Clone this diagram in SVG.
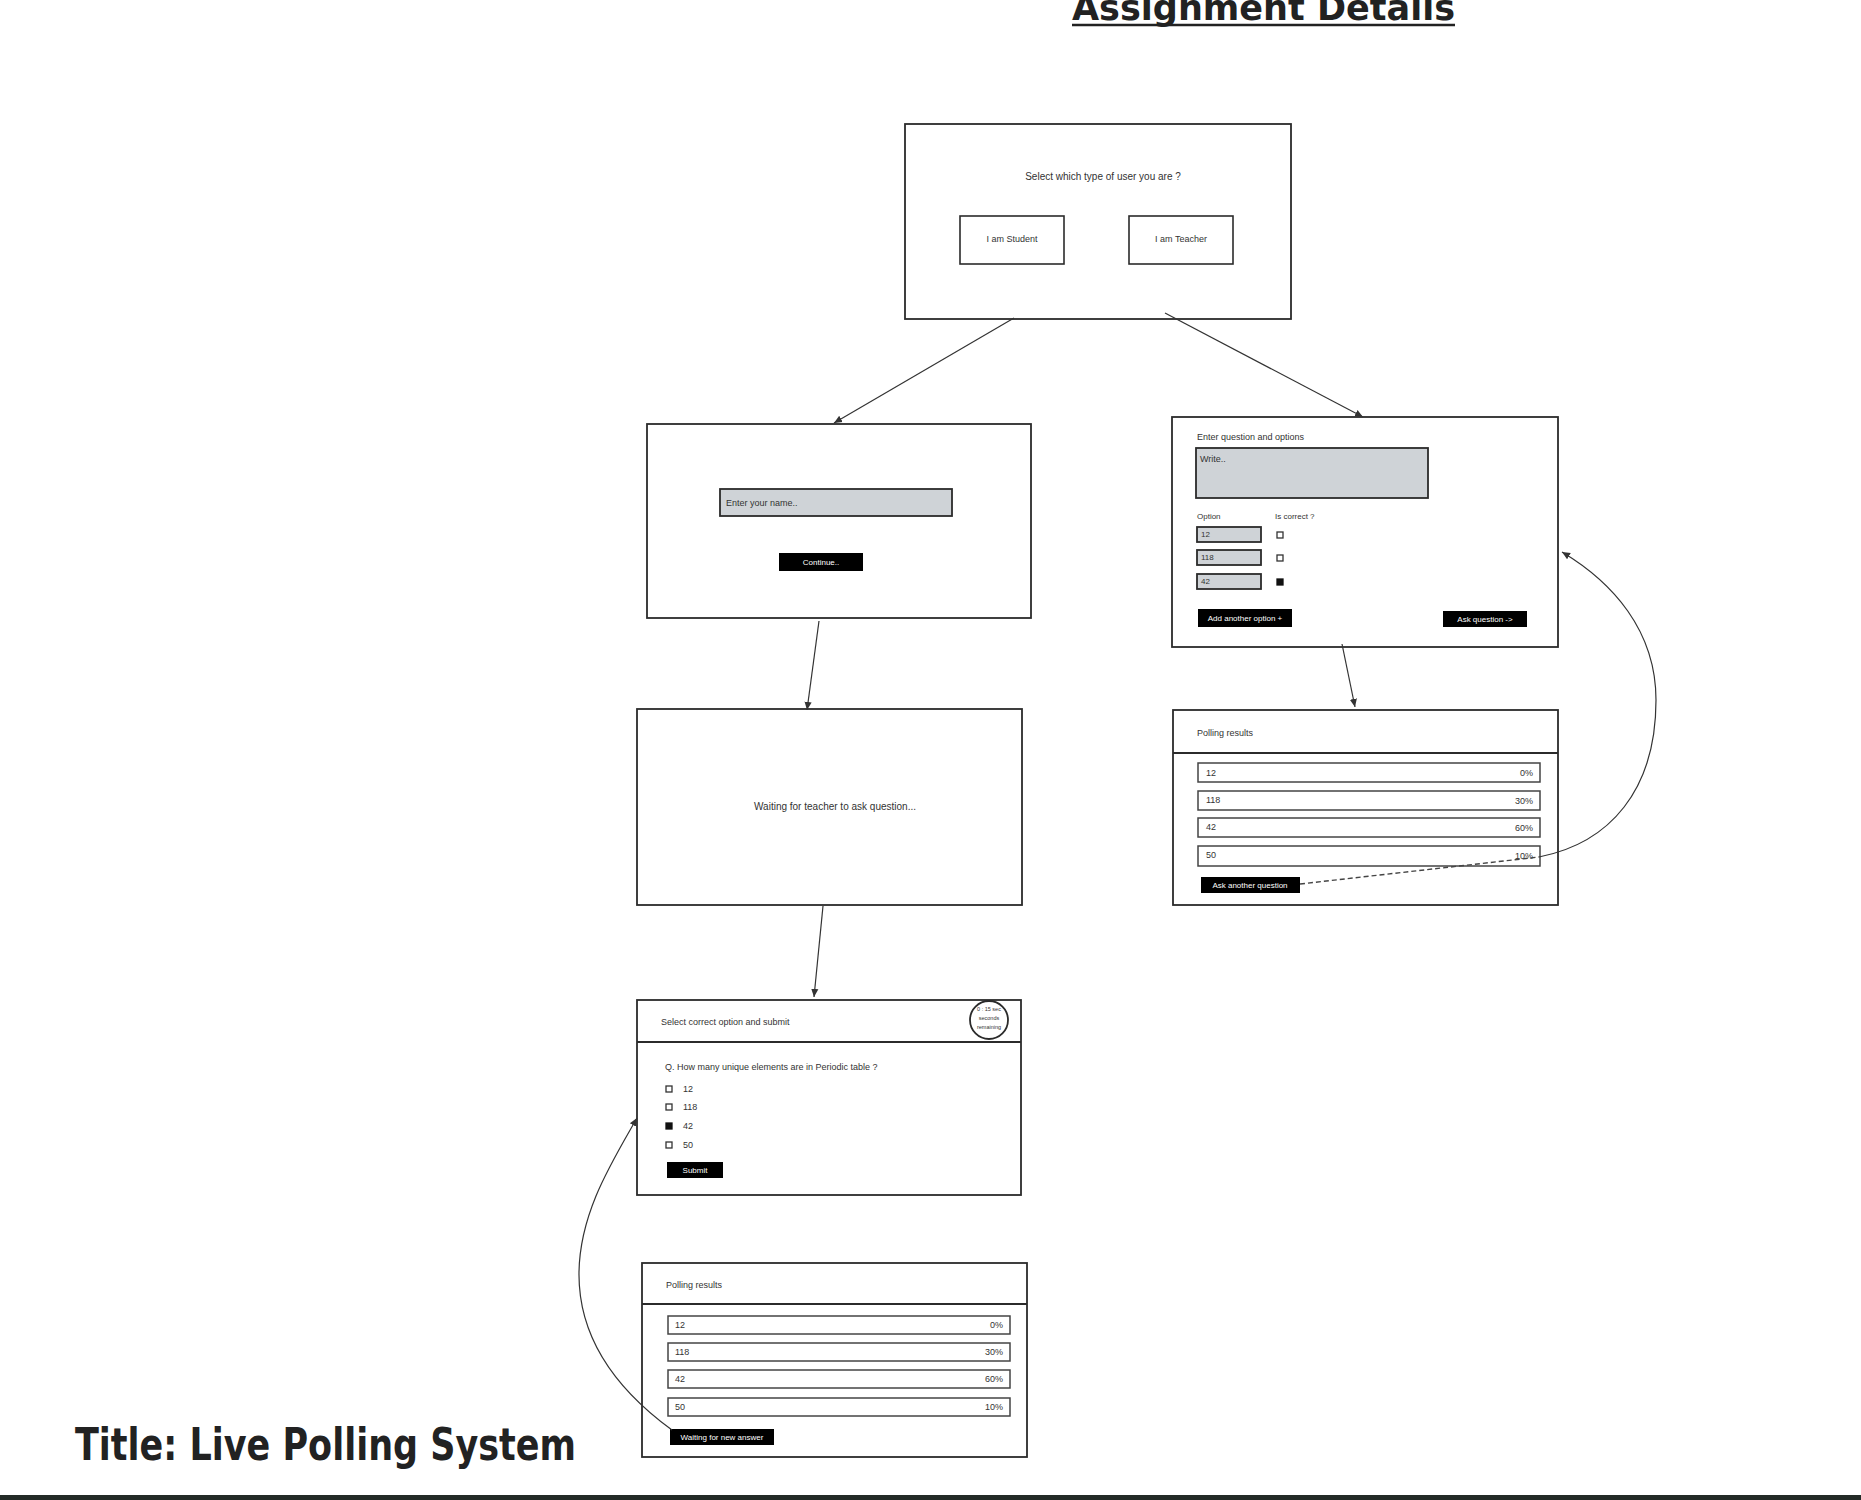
<svg xmlns="http://www.w3.org/2000/svg" width="1861" height="1500" viewBox="0 0 1861 1500">
<style>
.t{font-family:"Liberation Sans",Arial,sans-serif;fill:#333}
.s{font-size:9px}
.m{font-size:10px}
.frame{fill:#fff;stroke:#2b2b2b;stroke-width:1.8}
.btnbox{fill:#fff;stroke:#2b2b2b;stroke-width:1.6}
.inp{fill:#cfd3d7;stroke:#2b2b2b;stroke-width:1.8}
.btn{fill:#000}
.bt{font-family:"Liberation Sans",Arial,sans-serif;fill:#fff;font-size:8px}
.bar{fill:#fff;stroke:#444;stroke-width:1.5}
.hl{stroke:#2b2b2b;stroke-width:1.8}
.cb{fill:#fff;stroke:#333;stroke-width:1.3}
.cbf{fill:#111;stroke:#111;stroke-width:1.3}
.conn{fill:none;stroke:#333;stroke-width:1.2;marker-end:url(#arr)}
.head{font-family:"DejaVu Sans",Verdana,sans-serif;font-weight:bold;fill:#222}
</style>
<defs>
<marker id="arr" viewBox="0 0 10 10" refX="9" refY="5" markerWidth="9" markerHeight="9" markerUnits="userSpaceOnUse" orient="auto">
<path d="M0,1 L9,5 L0,9 Z" fill="#333"/>
</marker>
</defs>
<rect width="1861" height="1500" fill="#fff"/>

<g id="header">
<text class="head" x="1072" y="20" font-size="35" textLength="383" lengthAdjust="spacingAndGlyphs">Assignment Details</text>
<line x1="1072" y1="25" x2="1455" y2="25" stroke="#222" stroke-width="2.5"/>
</g>

<g id="title">
<text class="head" x="75" y="1460" font-size="44" textLength="501" lengthAdjust="spacingAndGlyphs">Title: Live Polling System</text>
</g>
<rect x="0" y="1495" width="1861" height="5" fill="#232b27"/>

<g id="node-select-role">
<rect class="frame" x="905" y="124" width="386" height="195"/>
<text class="t m" x="1103" y="180" text-anchor="middle">Select which type of user you are ?</text>
<rect class="btnbox" x="960" y="216" width="104" height="48"/>
<text class="t s" x="1012" y="242" text-anchor="middle">I am Student</text>
<rect class="btnbox" x="1129" y="216" width="104" height="48"/>
<text class="t s" x="1181" y="242" text-anchor="middle">I am Teacher</text>
</g>

<g id="node-student-name">
<rect class="frame" x="647" y="424" width="384" height="194"/>
<rect class="inp" x="720" y="489" width="232" height="27"/>
<text class="t s" x="726" y="506">Enter your name..</text>
<rect class="btn" x="779" y="553" width="84" height="18"/>
<text class="bt" x="821" y="565" text-anchor="middle">Continue..</text>
</g>

<g id="node-waiting">
<rect class="frame" x="637" y="709" width="385" height="196"/>
<text class="t m" x="835" y="810" text-anchor="middle">Waiting for teacher to ask question...</text>
</g>

<g id="node-student-question">
<rect class="frame" x="637" y="1000" width="384" height="195"/>
<line class="hl" x1="637" y1="1042" x2="1021" y2="1042"/>
<text class="t s" x="661" y="1025">Select correct option and submit</text>
<circle cx="989" cy="1020" r="19" fill="#fff" stroke="#2b2b2b" stroke-width="1.8"/>
<text class="t" x="989" y="1011" font-size="5.5" text-anchor="middle">0 : 15 sec</text>
<text class="t" x="989" y="1020" font-size="5.5" text-anchor="middle">seconds</text>
<text class="t" x="989" y="1029" font-size="5.5" text-anchor="middle">remaining</text>
<text class="t s" x="665" y="1070">Q. How many unique elements are in Periodic table ?</text>
<rect class="cb" x="666" y="1086" width="6" height="6"/>
<text class="t s" x="683" y="1092">12</text>
<rect class="cb" x="666" y="1104" width="6" height="6"/>
<text class="t s" x="683" y="1110">118</text>
<rect class="cbf" x="666" y="1123" width="6" height="6"/>
<text class="t s" x="683" y="1129">42</text>
<rect class="cb" x="666" y="1142" width="6" height="6"/>
<text class="t s" x="683" y="1148">50</text>
<rect class="btn" x="667" y="1162" width="56" height="16"/>
<text class="bt" x="695" y="1173" text-anchor="middle">Submit</text>
</g>

<g id="node-student-results">
<rect class="frame" x="642" y="1263" width="385" height="194"/>
<line class="hl" x1="642" y1="1304" x2="1027" y2="1304"/>
<text class="t s" x="666" y="1288">Polling results</text>
<rect class="bar" x="668" y="1316" width="342" height="18"/>
<text class="t s" x="675" y="1328">12</text>
<text class="t s" x="1003" y="1328" text-anchor="end">0%</text>
<rect class="bar" x="668" y="1343" width="342" height="18"/>
<text class="t s" x="675" y="1355">118</text>
<text class="t s" x="1003" y="1355" text-anchor="end">30%</text>
<rect class="bar" x="668" y="1370" width="342" height="18"/>
<text class="t s" x="675" y="1382">42</text>
<text class="t s" x="1003" y="1382" text-anchor="end">60%</text>
<rect class="bar" x="668" y="1398" width="342" height="18"/>
<text class="t s" x="675" y="1410">50</text>
<text class="t s" x="1003" y="1410" text-anchor="end">10%</text>
<rect class="btn" x="670" y="1429" width="104" height="16"/>
<text class="bt" x="722" y="1440" text-anchor="middle">Waiting for new answer</text>
</g>

<g id="node-teacher-question">
<rect class="frame" x="1172" y="417" width="386" height="230"/>
<text class="t s" x="1197" y="440">Enter question and options</text>
<rect class="inp" x="1196" y="448" width="232" height="50"/>
<text class="t s" x="1200" y="462">Write..</text>
<text class="t" font-size="8" x="1197" y="519">Option</text>
<text class="t" font-size="8" x="1275" y="519">Is correct ?</text>
<rect class="inp" x="1197" y="527" width="64" height="15"/>
<text class="t" font-size="8" x="1201" y="537">12</text>
<rect class="cb" x="1277" y="532" width="6" height="6"/>
<rect class="inp" x="1197" y="550" width="64" height="15"/>
<text class="t" font-size="8" x="1201" y="560">118</text>
<rect class="cb" x="1277" y="555" width="6" height="6"/>
<rect class="inp" x="1197" y="574" width="64" height="15"/>
<text class="t" font-size="8" x="1201" y="584">42</text>
<rect class="cbf" x="1277" y="579" width="6" height="6"/>
<rect class="btn" x="1198" y="609" width="94" height="18"/>
<text class="bt" x="1245" y="621" text-anchor="middle">Add another option +</text>
<rect class="btn" x="1443" y="611" width="84" height="16"/>
<text class="bt" x="1485" y="622" text-anchor="middle">Ask question -&gt;</text>
</g>

<g id="node-teacher-results">
<rect class="frame" x="1173" y="710" width="385" height="195"/>
<line class="hl" x1="1173" y1="753" x2="1558" y2="753"/>
<text class="t s" x="1197" y="736">Polling results</text>
<rect class="bar" x="1198" y="763" width="342" height="19"/>
<text class="t s" x="1206" y="776">12</text>
<text class="t s" x="1533" y="776" text-anchor="end">0%</text>
<rect class="bar" x="1198" y="791" width="342" height="19"/>
<text class="t s" x="1206" y="803">118</text>
<text class="t s" x="1533" y="804" text-anchor="end">30%</text>
<rect class="bar" x="1198" y="818" width="342" height="19"/>
<text class="t s" x="1206" y="830">42</text>
<text class="t s" x="1533" y="831" text-anchor="end">60%</text>
<rect class="bar" x="1198" y="846" width="342" height="20"/>
<text class="t s" x="1206" y="858">50</text>
<text class="t s" x="1533" y="859" text-anchor="end">10%</text>
<rect class="btn" x="1201" y="877" width="99" height="16"/>
<text class="bt" x="1250" y="888" text-anchor="middle">Ask another question</text>
</g>

<g id="connectors">
<path class="conn" d="M1014,318 L834,423"/>
<path class="conn" d="M1165,313 L1363,417"/>
<path class="conn" d="M819,621 L807,710"/>
<path class="conn" d="M823,906 L814,997"/>
<path class="conn" d="M1342,644 L1355,707"/>
<path fill="none" stroke="#444" stroke-width="1.4" stroke-dasharray="5 3" d="M1300,884 L1539,857"/>
<path class="conn" d="M1539,857 C1610,843 1656,790 1656,700 C1656,630 1612,582 1562,552"/>
<path class="conn" d="M672,1430 C620,1392 578,1340 579,1272 C580,1212 612,1162 637,1118"/>
</g>
</svg>
